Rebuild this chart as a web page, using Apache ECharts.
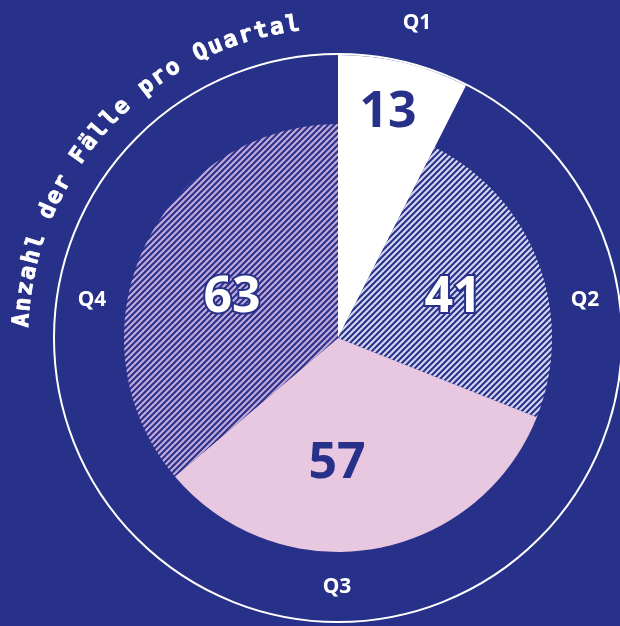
<!DOCTYPE html>
<html>
<head>
<meta charset="utf-8">
<script src="https://cdn.jsdelivr.net/npm/echarts@6/dist/echarts.min.js"></script>
<style>
  html, body { margin: 0; padding: 0; background: #283189; }
  #chart { width: 620px; height: 626px; }
</style>
</head>
<body>
<div id="chart"></div>
<script>
// Daten
var quarters = ['Q1', 'Q2', 'Q3', 'Q4'];
var cases = [13, 41, 57, 63];
var titleText = 'Anzahl der Fälle pro Quartal';

var BG = '#283189';
var cx = 338, cy = 338;

// Schraffur-Muster (diagonal "/")
function hatch(base, stripe) {
  var c = document.createElement('canvas');
  c.width = 6; c.height = 6;
  var ctx = c.getContext('2d');
  ctx.fillStyle = base;
  ctx.fillRect(0, 0, 6, 6);
  ctx.strokeStyle = stripe;
  ctx.lineWidth = 2.2;
  ctx.beginPath();
  ctx.moveTo(-3, 3); ctx.lineTo(3, -3);
  ctx.moveTo(0, 6); ctx.lineTo(6, 0);
  ctx.moveTo(3, 9); ctx.lineTo(9, 3);
  ctx.stroke();
  return { image: c, repeat: 'repeat' };
}

var none = 'rgba(0,0,0,0)';
var innerFill = [none, hatch(BG, '#d3d6f0'), '#e8c7e1', hatch(BG, '#c2a9da')];

// Label-Positionen
var valuePos = [[388, 113], [453, 298], [337, 464], [232, 298]];
var namePos = [[417, 23], [585, 300], [337, 587], [92, 300]];

var valueFont = { fontFamily: 'Noto Sans', fontWeight: 'bold', fontSize: 50 };

// Titel entlang des Bogens
var titleGraphic = [];
var r = 316, a0 = 273.2, step = 2.91;
for (var i = 0; i < titleText.length; i++) {
  var th = (a0 + i * step) * Math.PI / 180;
  titleGraphic.push({
    type: 'text',
    x: cx + r * Math.sin(th),
    y: cy - r * Math.cos(th),
    rotation: -th,
    style: {
      text: titleText[i],
      fill: '#ffffff',
      stroke: '#ffffff',
      lineWidth: 0.8,
      font: 'bold 23px "DejaVu Sans Mono", monospace',
      align: 'center',
      verticalAlign: 'middle'
    }
  });
}

var chart = echarts.init(document.getElementById('chart'));
chart.setOption({
  backgroundColor: BG,
  animation: false,
  graphic: [{
    type: 'circle',
    shape: { cx: cx, cy: cy, r: 284 },
    style: { fill: null, stroke: '#ffffff', lineWidth: 2 },
    z: 0
  }].concat(titleGraphic),
  series: [
    {
      // Q1 hervorgehoben (grösserer Radius)
      type: 'pie',
      center: [cx, cy],
      radius: [0, 283],
      startAngle: 90,
      silent: true,
      z: 2,
      data: quarters.map(function (q, i) {
        return {
          name: q, value: cases[i],
          itemStyle: { color: i === 0 ? '#ffffff' : none },
          label: { show: i === 0 }
        };
      }),
      itemStyle: { borderWidth: 0 },
      label: Object.assign({
        position: 'inside', formatter: '{c}', color: BG
      }, valueFont),
      labelLine: { show: false },
      labelLayout: function (p) {
        return { x: valuePos[p.dataIndex][0], y: valuePos[p.dataIndex][1], align: 'center', verticalAlign: 'middle' };
      }
    },
    {
      type: 'pie',
      center: [cx, cy],
      radius: [0, 214],
      startAngle: 90,
      silent: true,
      z: 3,
      data: quarters.map(function (q, i) {
        var light = i === 2;
        return {
          name: q, value: cases[i],
          itemStyle: { color: innerFill[i] },
          label: {
            show: i !== 0,
            color: light ? BG : '#ffffff',
            textBorderColor: light ? 'transparent' : BG,
            textBorderWidth: light ? 0 : 4
          }
        };
      }),
      itemStyle: { borderWidth: 0 },
      label: Object.assign({ position: 'inside', formatter: '{c}' }, valueFont),
      labelLine: { show: false },
      labelLayout: function (p) {
        return { x: valuePos[p.dataIndex][0], y: valuePos[p.dataIndex][1], align: 'center', verticalAlign: 'middle' };
      }
    },
    {
      // Quartalsnamen
      type: 'pie',
      center: [cx, cy],
      radius: [0, 214],
      startAngle: 90,
      silent: true,
      z: 4,
      data: quarters.map(function (q, i) {
        return { name: q, value: cases[i] };
      }),
      itemStyle: { color: none, borderWidth: 0 },
      label: {
        position: 'inside',
        formatter: '{b}',
        color: '#ffffff',
        fontFamily: 'Noto Sans',
        fontWeight: 'bold',
        fontSize: 21
      },
      labelLine: { show: false },
      labelLayout: function (p) {
        return { x: namePos[p.dataIndex][0], y: namePos[p.dataIndex][1], align: 'center', verticalAlign: 'middle' };
      }
    }
  ]
});
</script>
</body>
</html>
